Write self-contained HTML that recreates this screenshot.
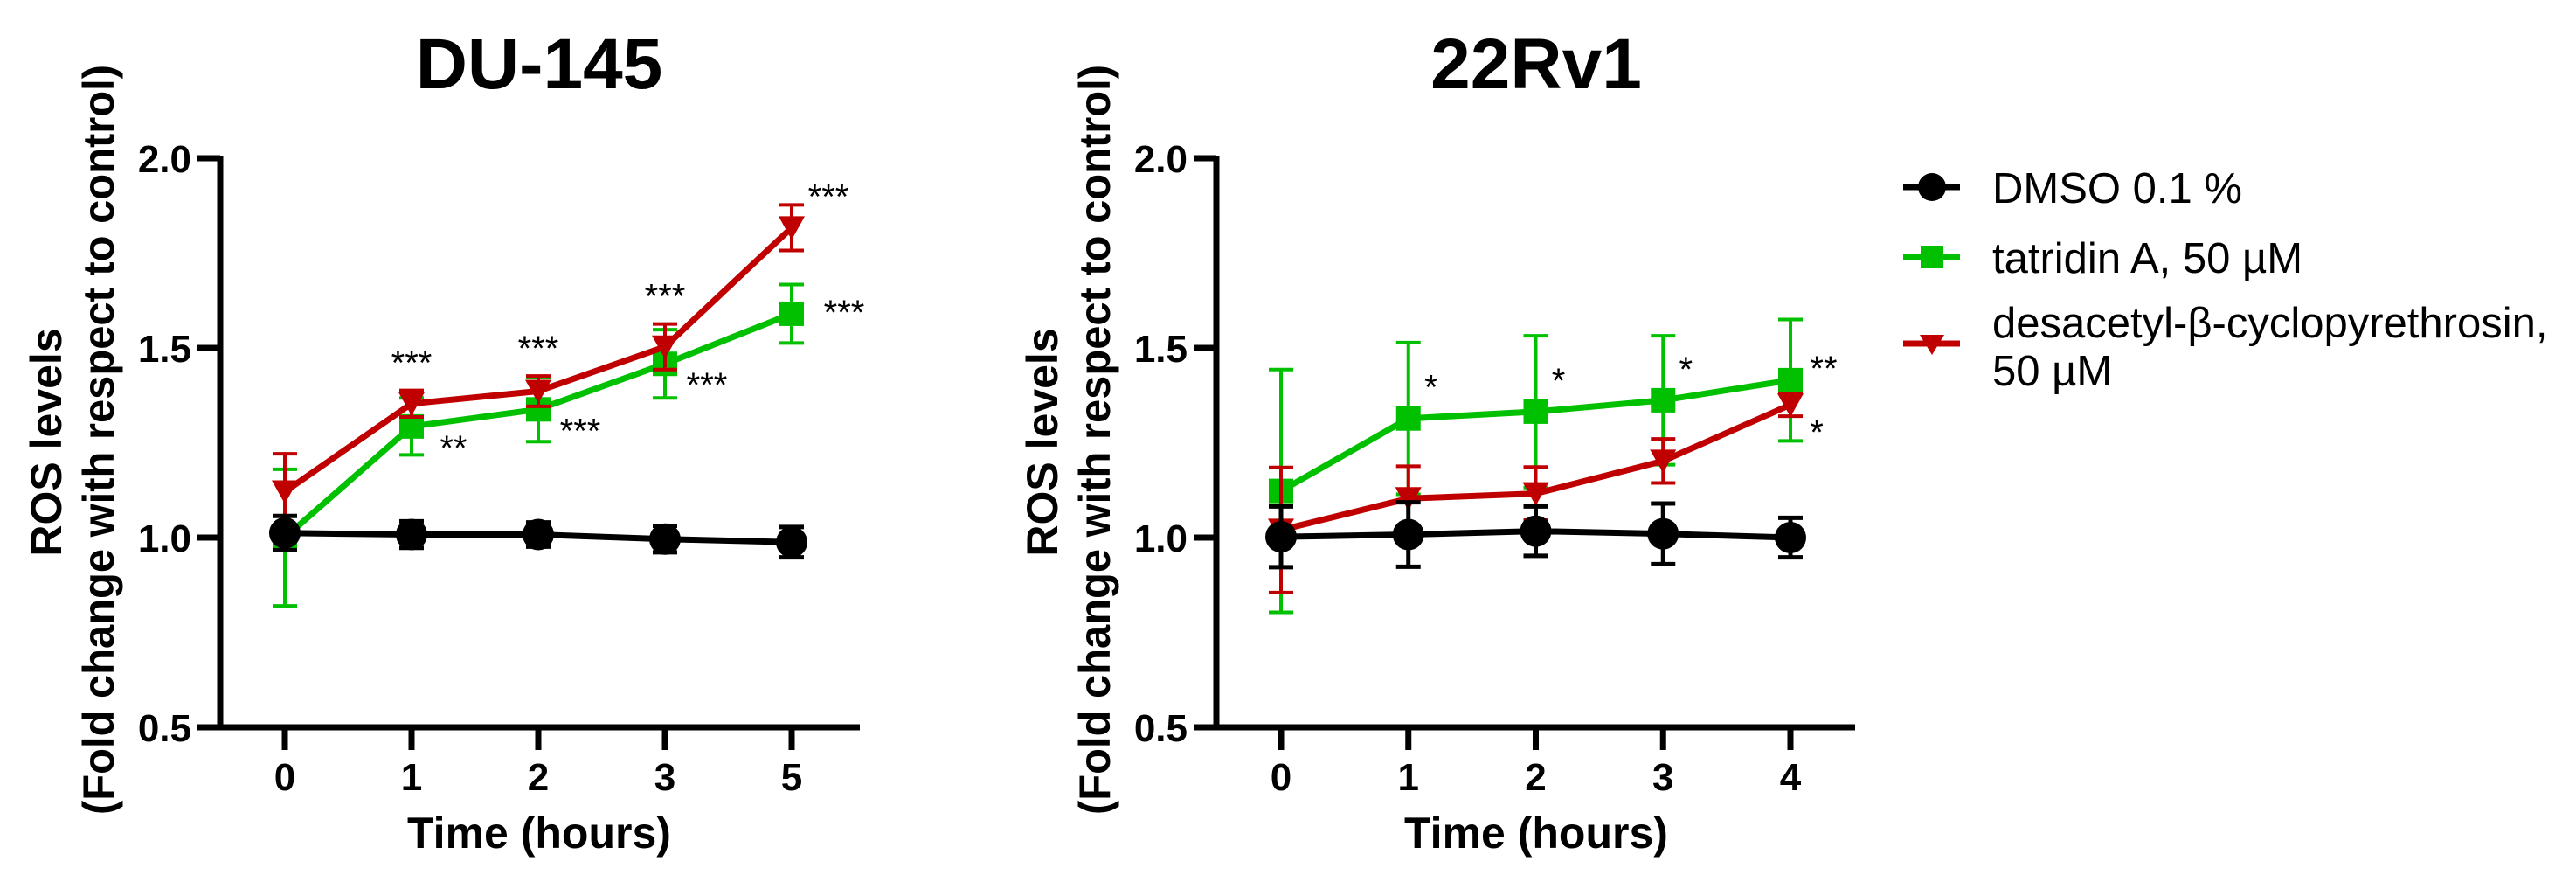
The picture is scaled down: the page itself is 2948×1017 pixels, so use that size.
<!DOCTYPE html>
<html><head><meta charset="utf-8"><style>
html,body{margin:0;padding:0;background:#fff}
svg{display:block}
text{font-family:"Liberation Sans",Arial,sans-serif}
</style></head><body>
<svg id="chart" width="2948" height="1017" viewBox="0 0 2948 1017" xmlns="http://www.w3.org/2000/svg">
<g id="legend">
  <g>
    <line x1="2178" y1="214" x2="2243" y2="214" stroke="#000" stroke-width="7"/>
    <circle cx="2211" cy="214" r="16" fill="#000"/>
    <text x="2280" y="232" font-size="49">DMSO 0.1 %</text>
  </g>
  <g>
    <line x1="2178" y1="294" x2="2243" y2="294" stroke="#00C000" stroke-width="7"/>
    <rect x="2198" y="281" width="26" height="26" fill="#00C000"/>
    <text x="2280" y="312" font-size="49">tatridin A, 50 µM</text>
  </g>
  <g>
    <line x1="2178" y1="393" x2="2243" y2="393" stroke="#C00000" stroke-width="7"/>
    <polygon points="2197,383 2225,383 2211,406" fill="#C00000"/>
    <text x="2280" y="386" font-size="49">desacetyl-β-cyclopyrethrosin,</text>
    <text x="2280" y="441" font-size="49">50 µM</text>
  </g>
</g>
</svg>
<script>
// ---- DU-145 data ----
const duCategories = ["0","1","2","3","5"];
const duDmso = [1.012, 1.008, 1.008, 0.996, 0.988];
const duDmsoErr = [0.045, 0.035, 0.032, 0.035, 0.04];
const duTatridin = [1.0, 1.293, 1.338, 1.458, 1.59];
const duTatridinErr = [0.18, 0.075, 0.085, 0.09, 0.077];
const duDesacetyl = [1.121, 1.353, 1.386, 1.503, 1.817];
const duDesacetylErr = [0.1, 0.035, 0.04, 0.06, 0.06];
const duStarsTat = ["", "**", "***", "***", "***"];
const duStarsDes = ["", "***", "***", "***", "***"];
// ---- 22Rv1 data ----
const rvCategories = ["0","1","2","3","4"];
const rvDmso = [1.002, 1.008, 1.017, 1.01, 1.0];
const rvDmsoErr = [0.08, 0.085, 0.065, 0.08, 0.052];
const rvTatridin = [1.123, 1.314, 1.332, 1.362, 1.415];
const rvTatridinErr = [0.32, 0.2, 0.2, 0.17, 0.16];
const rvDesacetyl = [1.02, 1.103, 1.116, 1.202, 1.35];
const rvDesacetylErr = [0.165, 0.085, 0.07, 0.058, 0.03];
const rvStarsTat = ["", "*", "*", "*", "**"];
const rvStarsDes = ["", "", "", "", "*"];
const yTicks = [0.5, 1.0, 1.5, 2.0];
const yTickLabels = ["0.5", "1.0", "1.5", "2.0"];

const NS = "http://www.w3.org/2000/svg";
const svg = document.getElementById("chart");
function mk(tag, attrs, parent) {
  const e = document.createElementNS(NS, tag);
  for (const k in attrs) e.setAttribute(k, attrs[k]);
  (parent || svg).appendChild(e);
  return e;
}
const GREEN = "#00C000", RED = "#C00000", BLACK = "#000";

function drawPanel(cfg) {
  const g = mk("g", {});
  
  
  const yTop = 181, yBot = 832;
  const yScale = v => yBot - (v - 0.5) / 1.5 * (yBot - yTop);
  const xScale = i => cfg.x0 + i * cfg.dx;
  const ax = cfg.axisX;
  const t = mk("text", {x: cfg.cx, y: 101, "font-size": 82, "font-weight": "bold", "text-anchor": "middle"}, g);
  t.textContent = cfg.title;
  
  
  const yt1 = mk("text", {x: 0, y: 0, "font-size": 50, "font-weight": "bold", "text-anchor": "middle", transform: `translate(${ax-182},506) rotate(-90)`}, g);
  yt1.textContent = "ROS levels";
  
  
  const yt2 = mk("text", {x: 0, y: 0, "font-size": 50, "font-weight": "bold", "text-anchor": "middle", textLength: 858, lengthAdjust: "spacingAndGlyphs", transform: `translate(${ax-122},503) rotate(-90)`}, g);
  yt2.textContent = "(Fold change with respect to control)";
  
  
  const ya = mk("line", {x1: ax, y1: yTop - 3, x2: ax, y2: yBot + 3, stroke: BLACK, "stroke-width": 7}, g);
  
  
  const xa = mk("line", {x1: ax - 26, y1: yBot, x2: cfg.axisEnd, y2: yBot, stroke: BLACK, "stroke-width": 7}, g);
  
  
  yTicks.forEach((v, i) => {
    const y = yScale(v);
    const tk = mk("line", {x1: ax - 26, y1: y, x2: ax, y2: y, stroke: BLACK, "stroke-width": 7}, g);
    
    
    const lb = mk("text", {x: ax - 33, y: y + 16, "font-size": 44, "font-weight": "bold", "text-anchor": "end"}, g);
    lb.textContent = yTickLabels[i];
    
    
  });
  cfg.cats.forEach((c, i) => {
    const x = xScale(i);
    const tk = mk("line", {x1: x, y1: yBot, x2: x, y2: yBot + 26, stroke: BLACK, "stroke-width": 7}, g);
    
    
    const lb = mk("text", {x: x, y: 904, "font-size": 44, "font-weight": "bold", "text-anchor": "middle"}, g);
    lb.textContent = c;
    
    
  });
  const xt = mk("text", {x: cfg.cx, y: 970, "font-size": 50, "font-weight": "bold", "text-anchor": "middle"}, g);
  xt.textContent = "Time (hours)";
  
  

  function series(vals, errs, color, kind, name, ebw) {
    const sg = mk("g", {}, g);
    
    
    vals.forEach((v, i) => {
      const x = xScale(i), y1 = yScale(v + errs[i]), y2 = yScale(v - errs[i]);
      const eb = mk("path", {d: `M${x} ${y1}V${y2}M${x-14} ${y1}H${x+14}M${x-14} ${y2}H${x+14}`, stroke: color, "stroke-width": ebw, fill: "none"}, sg);
      
      
    });
    const pts = vals.map((v, i) => xScale(i) + "," + yScale(v)).join(" ");
    const ln = mk("polyline", {points: pts, fill: "none", stroke: color, "stroke-width": 7, "stroke-linejoin": "round"}, sg);
    
    
    vals.forEach((v, i) => {
      const x = xScale(i), y = yScale(v);
      let m;
      if (kind === "circle") m = mk("circle", {cx: x, cy: y, r: 18, fill: color}, sg);
      else if (kind === "square") m = mk("rect", {x: x - 14, y: y - 14, width: 28, height: 28, fill: color}, sg);
      else m = mk("polygon", {points: `${x-15},${y-13} ${x+15},${y-13} ${x},${y+14}`, fill: color}, sg);
      
      
    });
  }
  series(cfg.tat, cfg.tatErr, GREEN, "square", "tatridin", 4);
  series(cfg.des, cfg.desErr, RED, "triangle", "desacetyl", 4);
  series(cfg.dmso, cfg.dmsoErr, BLACK, "circle", "dmso", 5);

  function stars(arr, vals, errs, dx, dy, useTop) {
    arr.forEach((s, i) => {
      if (!s) return;
      const base = useTop ? yScale(vals[i] + errs[i]) : yScale(vals[i]);
      const st = mk("text", {x: xScale(i) + dx, y: base + dy, "font-size": 40, "text-anchor": "middle"}, g);
      st.textContent = s;
      
      
    });
  }
  cfg.starFn(stars);
}

drawPanel({name: "du145", title: "DU-145", cx: 617, axisX: 252, axisEnd: 984, x0: 326, dx: 145,
  cats: duCategories, dmso: duDmso, dmsoErr: duDmsoErr, tat: duTatridin, tatErr: duTatridinErr,
  des: duDesacetyl, desErr: duDesacetylErr,
  starFn: (stars) => {
    stars(duStarsDes.slice(0,4), duDesacetyl, duDesacetylErr, 0, -18, true);
    stars(["", "", "", "", duStarsDes[4]], duDesacetyl, duDesacetylErr, 42, 4, true);
    stars(duStarsTat.slice(0,4), duTatridin, duTatridinErr, 48, 38, false);
    stars(["", "", "", "", duStarsTat[4]], duTatridin, duTatridinErr, 60, 12, false);
  }});
drawPanel({name: "22rv1", title: "22Rv1", cx: 1758, axisX: 1392, axisEnd: 2123, x0: 1466, dx: 145.75,
  cats: rvCategories, dmso: rvDmso, dmsoErr: rvDmsoErr, tat: rvTatridin, tatErr: rvTatridinErr,
  des: rvDesacetyl, desErr: rvDesacetylErr,
  starFn: (stars) => {
    stars(rvStarsTat.slice(0,4), rvTatridin, rvTatridinErr, 26, -22, false);
    stars(["", "", "", "", rvStarsTat[4]], rvTatridin, rvTatridinErr, 38, 0, false);
    stars(rvStarsDes, rvDesacetyl, rvDesacetylErr, 30, 45, false);
  }});
</script>
</body></html>
